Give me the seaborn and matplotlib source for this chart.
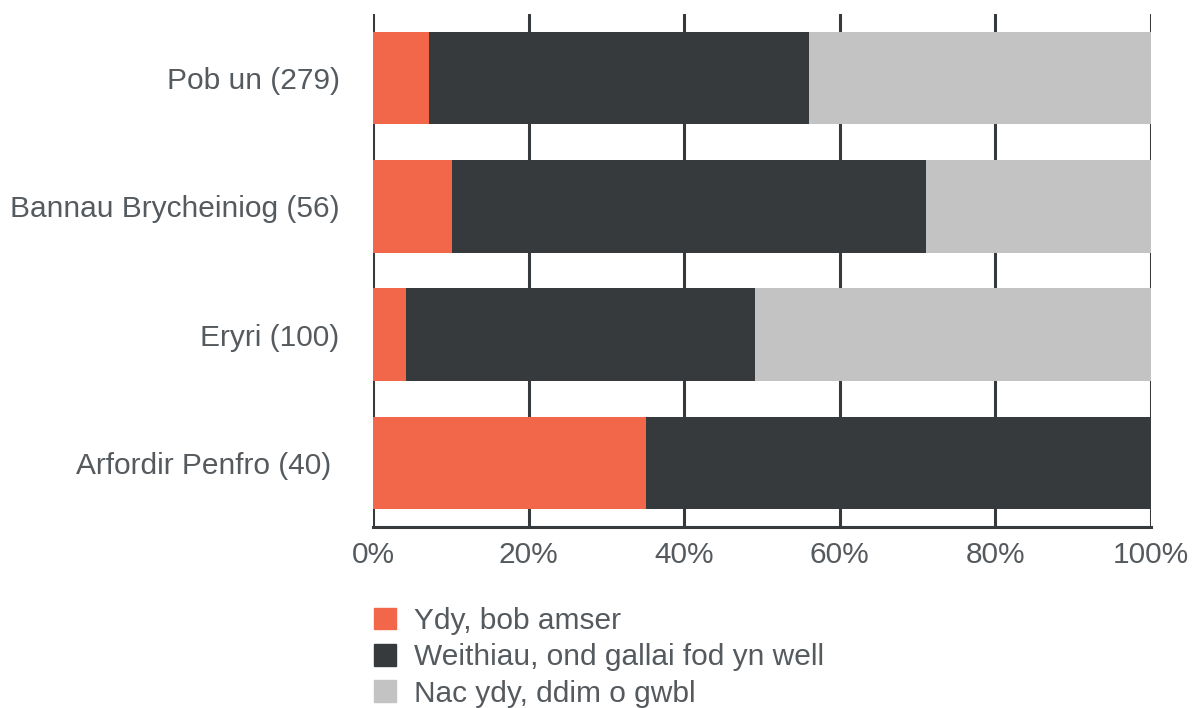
import matplotlib
matplotlib.use("Agg")
import matplotlib.pyplot as plt
import matplotlib.patches as mpatches
import numpy as np
import pandas as pd
import seaborn as sns

categories = ["Pob un (279)", "Bannau Brycheiniog (56)", "Eryri (100)", "Arfordir Penfro (40) "]
series_names = ["Ydy, bob amser", "Weithiau, ond gallai fod yn well", "Nac ydy, ddim o gwbl"]
ydy = [7.2, 10.1, 4.2, 35.1]
weithiau = [48.8, 61.0, 44.9, 64.9]
nac_ydy = [44.0, 28.9, 50.9, 0.0]
colors = ["#F2664A", "#373A3D", "#C2C3C2"]
xticks = [0, 20, 40, 60, 80, 100]

sns.set_style("white")
plt.rcParams["font.family"] = ["Liberation Sans", "DejaVu Sans"]
text_color = "#555A5E"
fs = 21.5

df = pd.DataFrame({"cat": categories, "a": ydy, "b": weithiau, "c": nac_ydy})
df["cum_a"] = df["a"]
df["cum_b"] = df["a"] + df["b"]
df["cum_c"] = df["cum_b"] + df["c"]

fig = plt.figure(figsize=(11.92, 7.08), dpi=100)
ax = fig.add_axes([373 / 1192, 1 - 527 / 708, (1151 - 373) / 1192, (527 - 14) / 708])

# gridlines behind bars
for t in xticks:
    ax.axvline(t, color="#373A3D", lw=2.2, zorder=0)

# stacked: draw cumulative, largest first
for col, c in zip(["cum_c", "cum_b", "cum_a"], colors[::-1]):
    sns.barplot(data=df, x=col, y="cat", orient="h", color=c, width=0.72,
                saturation=1, linewidth=0, ax=ax, zorder=2)

ax.set_xlim(0, 100)
ax.set_ylim(3.5, -0.5)
ax.set_xticks(xticks)
ax.set_xticklabels([f"{t}%" for t in xticks])
ax.set_xlabel("")
ax.set_ylabel("")
ax.tick_params(axis="x", length=0, pad=10, labelsize=fs, labelcolor=text_color)
ax.tick_params(axis="y", length=0, pad=24, labelsize=fs, labelcolor=text_color)
for s in ["top", "right", "left"]:
    ax.spines[s].set_visible(False)
ax.spines["bottom"].set_color("#373A3D")
ax.spines["bottom"].set_linewidth(2.2)
ax.spines["bottom"].set_zorder(3)

handles = [mpatches.Patch(color=c, label=n) for c, n in zip(colors, series_names)]
fig.legend(handles=handles, loc="upper left", bbox_to_anchor=(362 / 1192, 1 - 595 / 708),
           frameon=False, fontsize=fs, labelcolor=text_color, handlelength=0.75,
           handleheight=0.75, handletextpad=0.6, labelspacing=0.28, borderaxespad=0)

fig.savefig("out.png", dpi=100)
